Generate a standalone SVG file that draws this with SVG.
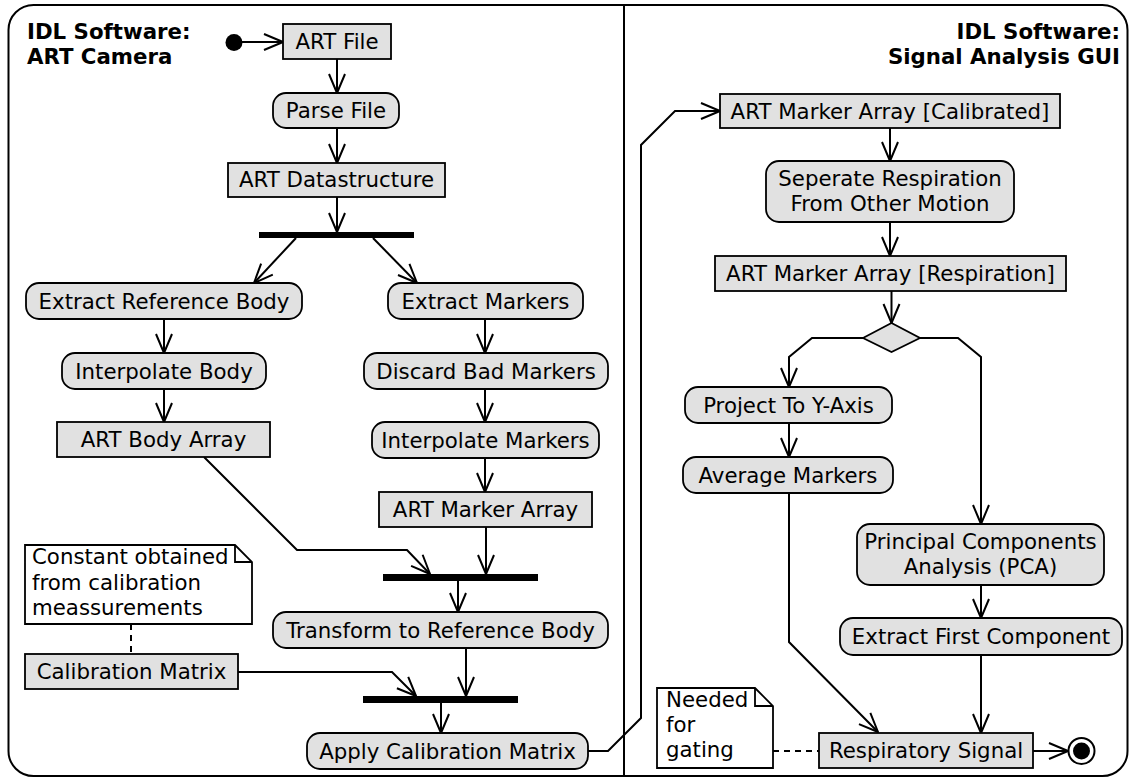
<svg xmlns="http://www.w3.org/2000/svg" width="1132" height="781" viewBox="0 0 1132 781">
<style>
.t{font-family:"DejaVu Sans","Liberation Sans",sans-serif;font-size:21.3px;fill:#000;text-anchor:middle}
.tl{font-family:"DejaVu Sans","Liberation Sans",sans-serif;font-size:21.3px;fill:#000}
.h{font-family:"DejaVu Sans","Liberation Sans",sans-serif;font-size:21.3px;font-weight:bold;fill:#000}
.box{fill:#E1E1E1;stroke:#000;stroke-width:1.8}
.note{fill:#FFFFFF;stroke:#000;stroke-width:1.8}
.bar{fill:#000}
.c{fill:none;stroke:#000;stroke-width:2;marker-end:url(#arr)}
.d{fill:none;stroke:#000;stroke-width:2;stroke-dasharray:6,5}
.ln{fill:none;stroke:#000;stroke-width:2}
</style>
<defs>
<marker id="arr" markerUnits="userSpaceOnUse" markerWidth="24" markerHeight="22" refX="20" refY="9" orient="auto" overflow="visible">
<path d="M1,1 L20,9 L1,17" fill="none" stroke="#000" stroke-width="2" stroke-linejoin="round"/>
</marker>
</defs>
<rect x="8.5" y="5" width="1119" height="771" rx="25" ry="25" fill="#FFFFFF" stroke="#000" stroke-width="2"/>
<line x1="624" y1="5" x2="624" y2="776" stroke="#000" stroke-width="2"/>
<g id="lane-left-title">
<text class="h" x="27" y="39">IDL Software:</text>
<text class="h" x="27" y="64">ART Camera</text>
</g>
<g id="lane-right-title">
<text class="h" x="1120" y="39" text-anchor="end">IDL Software:</text>
<text class="h" x="1120" y="64" text-anchor="end">Signal Analysis GUI</text>
</g>
<g id="connectors">
<path class="c" d="M242,42 L283,42"/>
<path class="c" d="M337,59 L337,93"/>
<path class="c" d="M337,128 L337,163"/>
<path class="c" d="M337,197 L337,232"/>
<path class="c" d="M296,238 L254,283"/>
<path class="c" d="M373,238 L417,283"/>
<path class="c" d="M164,319 L164,353"/>
<path class="c" d="M164,389 L164,422"/>
<path class="c" d="M485,319 L485,353"/>
<path class="c" d="M485,389 L485,422"/>
<path class="c" d="M485,458 L485,492"/>
<path class="c" d="M486,527 L486,574"/>
<path class="c" d="M204,457 L297,550 L407,550 L430,574"/>
<path class="c" d="M458,581 L458,612"/>
<path class="c" d="M466,648 L466,696"/>
<path class="d" d="M131,624 L131,654"/>
<path class="c" d="M238,672 L392,672 L416,696"/>
<path class="c" d="M441,703 L441,733"/>
<path class="c" d="M588,751 L608,751 L641,718 L641,145 L675,111 L720,111"/>
<path class="c" d="M890,128 L890,161"/>
<path class="c" d="M890,222 L890,256"/>
<path class="c" d="M891.5,291 L891.5,323"/>
<path class="c" d="M863,338 L812,338 L789,357 L789,387"/>
<path class="c" d="M789,423 L789,457"/>
<path class="c" d="M789,493 L789,642 L878,732"/>
<path class="c" d="M920,338 L958,338 L981,357 L981,524"/>
<path class="c" d="M981,585 L981,618"/>
<path class="c" d="M981,655 L981,733"/>
<path class="c" d="M1033,751 L1068,751"/>
<path class="d" d="M773,751 L819,751"/>
</g>
<g id="start"><circle cx="234" cy="42.5" r="8.5" fill="#000"/></g>
<g id="art-file"><rect class="box" x="283" y="24" width="108" height="35"/><text class="t" x="337" y="49">ART File</text></g>
<g id="parse-file"><rect class="box" x="273" y="93" width="126" height="35" rx="13"/><text class="t" x="336" y="118">Parse File</text></g>
<g id="art-datastructure"><rect class="box" x="228" y="163" width="217" height="34"/><text class="t" x="336.5" y="187">ART Datastructure</text></g>
<g id="fork1"><rect class="bar" x="259" y="232" width="155" height="6"/></g>
<g id="extract-reference-body"><rect class="box" x="26" y="283" width="276" height="36" rx="13"/><text class="t" x="164" y="308.5">Extract Reference Body</text></g>
<g id="extract-markers"><rect class="box" x="388" y="283" width="195" height="36" rx="13"/><text class="t" x="485.5" y="308.5">Extract Markers</text></g>
<g id="interpolate-body"><rect class="box" x="62" y="353" width="204" height="36" rx="13"/><text class="t" x="164" y="378.5">Interpolate Body</text></g>
<g id="discard-bad-markers"><rect class="box" x="364" y="353" width="244" height="36" rx="13"/><text class="t" x="486" y="378.5">Discard Bad Markers</text></g>
<g id="art-body-array"><rect class="box" x="57" y="422" width="213" height="35"/><text class="t" x="163.5" y="447">ART Body Array</text></g>
<g id="interpolate-markers"><rect class="box" x="372" y="422" width="227" height="36" rx="13"/><text class="t" x="485.5" y="447.5">Interpolate Markers</text></g>
<g id="art-marker-array"><rect class="box" x="379" y="492" width="213" height="35"/><text class="t" x="485.5" y="517">ART Marker Array</text></g>
<g id="fork2"><rect class="bar" x="383" y="574" width="155" height="7"/></g>
<g id="transform"><rect class="box" x="273" y="612" width="335" height="36" rx="13"/><text class="t" x="440.5" y="637.5">Transform to Reference Body</text></g>
<g id="note-constant">
<path class="note" d="M25,545 L235,545 L252,562 L252,624 L25,624 Z"/>
<path class="ln" d="M235,545 L235,562 L252,562" style="stroke-width:1.8"/>
<text class="tl" x="32" y="564">Constant obtained</text>
<text class="tl" x="32" y="589.5">from calibration</text>
<text class="tl" x="32" y="615">meassurements</text>
</g>
<g id="calibration-matrix"><rect class="box" x="25" y="654" width="213" height="35"/><text class="t" x="131.5" y="679">Calibration Matrix</text></g>
<g id="fork3"><rect class="bar" x="363" y="696" width="155" height="7"/></g>
<g id="apply-calibration"><rect class="box" x="307" y="733" width="281" height="36" rx="13"/><text class="t" x="447.5" y="758.5">Apply Calibration Matrix</text></g>
<g id="art-marker-array-calibrated"><rect class="box" x="720" y="94" width="340" height="34"/><text class="t" x="890" y="118.5">ART Marker Array [Calibrated]</text></g>
<g id="seperate-respiration"><rect class="box" x="766" y="161" width="248" height="61" rx="13"/><text class="t" x="890" y="186">Seperate Respiration</text><text class="t" x="890" y="211">From Other Motion</text></g>
<g id="art-marker-array-respiration"><rect class="box" x="715" y="256" width="351" height="35"/><text class="t" x="890.5" y="281">ART Marker Array [Respiration]</text></g>
<g id="decision"><path class="box" d="M863,338 L891.5,323 L920,338 L891.5,352 Z"/></g>
<g id="project-y"><rect class="box" x="685" y="387" width="207" height="36" rx="13"/><text class="t" x="788.5" y="412.5">Project To Y-Axis</text></g>
<g id="average-markers"><rect class="box" x="683" y="457" width="210" height="36" rx="13"/><text class="t" x="788" y="482.5">Average Markers</text></g>
<g id="pca"><rect class="box" x="857" y="524" width="247" height="61" rx="13"/><text class="t" x="980.5" y="549">Principal Components</text><text class="t" x="980.5" y="574">Analysis (PCA)</text></g>
<g id="extract-first-component"><rect class="box" x="840" y="618" width="282" height="37" rx="13"/><text class="t" x="981" y="644">Extract First Component</text></g>
<g id="respiratory-signal"><rect class="box" x="819" y="733" width="214" height="35"/><text class="t" x="926" y="758">Respiratory Signal</text></g>
<g id="end"><circle cx="1081.5" cy="751" r="13" fill="#FFFFFF" stroke="#000" stroke-width="2"/><circle cx="1081.5" cy="751" r="8.5" fill="#000"/></g>
<g id="note-gating">
<path class="note" d="M657,688 L755,688 L773,706 L773,768 L657,768 Z"/>
<path class="ln" d="M755,688 L755,706 L773,706" style="stroke-width:1.8"/>
<text class="tl" x="666" y="707">Needed</text>
<text class="tl" x="666" y="732">for</text>
<text class="tl" x="666" y="757">gating</text>
</g>
</svg>
